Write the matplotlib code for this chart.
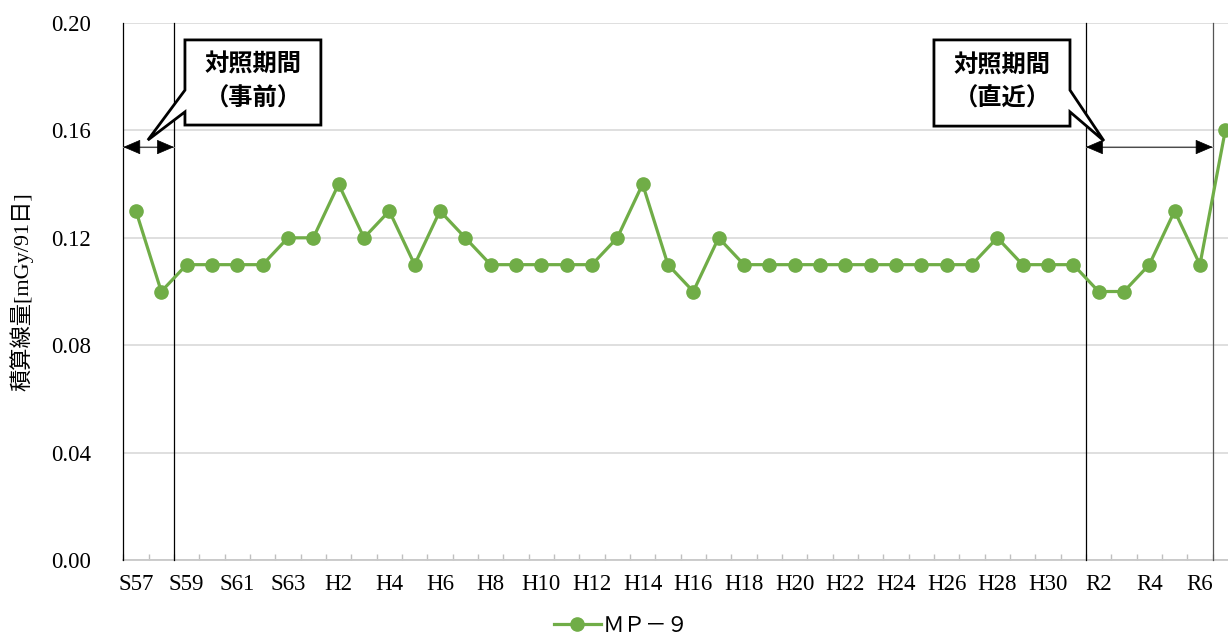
import matplotlib
matplotlib.use("Agg")
import matplotlib.pyplot as plt
from matplotlib.patches import Polygon

years = ["S57", "S58", "S59", "S60", "S61", "S62", "S63",
         "H1", "H2", "H3", "H4", "H5", "H6", "H7", "H8", "H9", "H10",
         "H11", "H12", "H13", "H14", "H15", "H16", "H17", "H18", "H19", "H20",
         "H21", "H22", "H23", "H24", "H25", "H26", "H27", "H28", "H29", "H30",
         "R1", "R2", "R3", "R4", "R5", "R6", "R7"]
values = [0.13, 0.10, 0.11, 0.11, 0.11, 0.11, 0.12,
          0.12, 0.14, 0.12, 0.13, 0.11, 0.13, 0.12, 0.11, 0.11, 0.11,
          0.11, 0.11, 0.12, 0.14, 0.11, 0.10, 0.12, 0.11, 0.11, 0.11,
          0.11, 0.11, 0.11, 0.11, 0.11, 0.11, 0.11, 0.12, 0.11, 0.11,
          0.11, 0.10, 0.10, 0.11, 0.13, 0.11, 0.16]
yticks = [0.00, 0.04, 0.08, 0.12, 0.16, 0.20]
series_name = "ＭＰ－９"
ylabel = "積算線量[mGy/91日]"
callout_left = "対照期間\n（事前）"
callout_right = "対照期間\n（直近）"

serif = ["Liberation Serif", "DejaVu Serif"]
cjk = ["Noto Sans CJK JP", "DejaVu Sans"]
mixed = ["Liberation Serif", "Noto Sans CJK JP"]

fig = plt.figure(figsize=(12.28, 6.39), dpi=100)
ax = fig.add_axes([0.1004, 0.1236, 0.9077, 0.8404])

x = list(range(len(years)))
green = "#70AD47"
ax.plot(x, values, color=green, lw=2.3, marker="o", ms=9.5, zorder=5,
        label=series_name, clip_on=False)

ax.set_xlim(-0.5, len(years) - 0.5)
ax.set_ylim(0, 0.20)
ax.set_yticks(yticks)
ax.set_yticklabels([f"{v:.2f}" for v in yticks], fontfamily=serif, fontsize=16.5)
ax.yaxis.grid(True, color="#d9d9d9", lw=1.2)
ax.set_axisbelow(True)
ax.tick_params(axis="y", length=0, pad=23)

major = x[::2]
ax.set_xticks(major)
ax.set_xticklabels([years[i] for i in major], fontfamily=serif, fontsize=16.5)
ax.set_xticks([i - 0.5 for i in range(len(years) + 1)], minor=True)
ax.tick_params(axis="x", which="major", length=0, pad=10)
ax.tick_params(axis="x", which="minor", length=4.5, direction="in",
               color="#bfbfbf", width=1)

for s in ["top", "right", "left"]:
    ax.spines[s].set_visible(False)
ax.spines["bottom"].set_color("#c8c8c8")
ax.spines["bottom"].set_linewidth(1.3)

ax.set_ylabel(ylabel, fontfamily=mixed, fontsize=16)
ax.yaxis.set_label_coords(-0.081, 0.5)

# period separators
for xv, col in [(-0.5, "black"), (1.5, "black"), (37.5, "black"), (42.5, "#555555")]:
    ax.plot([xv, xv], [0, 0.20], color=col, lw=0.9, zorder=3, clip_on=False)

# double arrows
ya = 0.1538
for x1, x2 in [(-0.5, 1.5), (37.5, 42.5)]:
    ax.plot([x1, x2], [ya, ya], color="#808080", lw=0.8, zorder=6)
    ax.annotate("", xy=(x2, ya), xytext=(x1, ya),
                arrowprops=dict(arrowstyle="<|-|>,head_length=0.75,head_width=0.32",
                                facecolor="black", edgecolor="black", lw=0.5,
                                shrinkA=0, shrinkB=0, mutation_scale=15), zorder=6)

def callout(bx0, bx1, by0, by1, wy_hi, wy_lo, tip, side, text):
    if side == "left":
        pts = [(bx0, by1), (bx1, by1), (bx1, by0), (bx0, by0),
               (bx0, wy_lo), tip, (bx0, wy_hi)]
    else:
        pts = [(bx0, by1), (bx1, by1), (bx1, wy_hi), tip, (bx1, wy_lo),
               (bx1, by0), (bx0, by0)]
    poly = Polygon(pts, closed=True, facecolor="white", edgecolor="black",
                   lw=2.0, zorder=8, clip_on=False, joinstyle="miter")
    ax.add_patch(poly)
    ax.text((bx0 + bx1) / 2, (by0 + by1) / 2 + 0.0003, text, ha="center", va="center",
            fontfamily=cjk, fontsize=17.5, fontweight="bold", zorder=9,
            linespacing=1.5)

callout(1.934, 7.30, 0.1620, 0.1937, 0.1750, 0.1669, (0.47, 0.1564), "left", callout_left)
callout(31.50, 36.87, 0.1616, 0.1937, 0.1750, 0.1669, (38.21, 0.1561), "right", callout_right)

leg = fig.legend(loc="center", bbox_to_anchor=(0.506, 0.021), frameon=False,
                 prop={"family": cjk, "size": 15.5}, handlelength=2.2,
                 handletextpad=0.1, borderpad=0.0, borderaxespad=0.0)

fig.savefig("out.png", dpi=100)
